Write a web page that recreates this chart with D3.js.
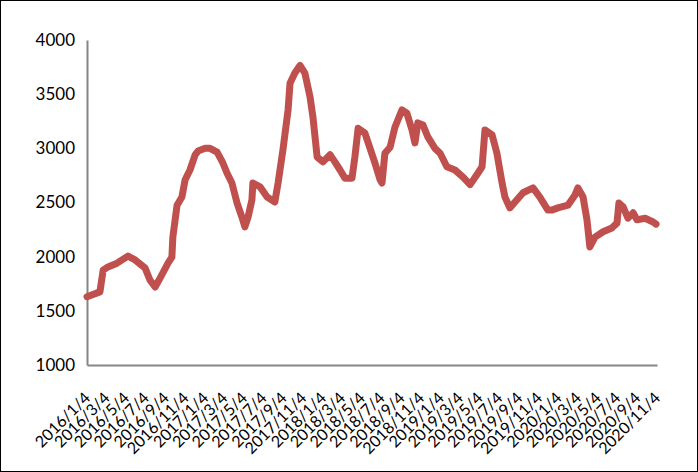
<!DOCTYPE html>
<html>
<head>
<meta charset="utf-8">
<script src="https://cdn.jsdelivr.net/npm/d3@7"></script>
<style>
  html, body { margin: 0; padding: 0; background: #fff; }
  svg { display: block; }
</style>
</head>
<body>
<svg id="chart" width="698" height="472"></svg>
<script>
const dates = [
  "2016-01-04","2016-02-13","2016-02-23","2016-03-09","2016-04-06","2016-05-10","2016-06-01","2016-07-02",
  "2016-07-17","2016-08-02","2016-08-17","2016-09-11","2016-09-23","2016-09-26","2016-10-09","2016-10-24",
  "2016-11-03","2016-11-18","2016-12-04","2016-12-13","2017-01-04","2017-01-19","2017-02-10","2017-02-28",
  "2017-03-13","2017-03-28","2017-04-13","2017-04-28","2017-05-07","2017-05-17","2017-05-29","2017-06-01",
  "2017-06-23","2017-07-15","2017-08-08","2017-08-18","2017-09-02","2017-09-18","2017-09-24","2017-10-09",
  "2017-10-25","2017-11-09","2017-11-25","2017-12-04","2017-12-17","2018-01-04","2018-01-26","2018-02-10",
  "2018-02-26","2018-03-13","2018-04-04","2018-04-13","2018-04-23","2018-05-14","2018-05-30","2018-06-14",
  "2018-06-30","2018-07-06","2018-07-15","2018-07-31","2018-08-15","2018-09-06","2018-09-21","2018-10-07",
  "2018-10-16","2018-10-25","2018-11-10","2018-11-25","2018-12-17","2019-01-02","2019-01-23","2019-02-17",
  "2019-03-14","2019-04-05","2019-04-29","2019-05-12","2019-05-21","2019-06-12","2019-06-27","2019-07-13",
  "2019-07-22","2019-08-06","2019-08-22","2019-09-16","2019-10-17","2019-11-07","2019-12-02","2019-12-14",
  "2020-01-02","2020-02-02","2020-02-24","2020-03-04","2020-03-20","2020-04-01","2020-04-10","2020-04-26",
  "2020-05-21","2020-06-17","2020-07-03","2020-07-09","2020-07-22","2020-08-06","2020-08-22","2020-09-03",
  "2020-09-28","2020-10-23","2020-11-01"
];
const prices = [
  1630,1675,1875,1905,1940,2005,1970,1895,
  1785,1720,1800,1940,1995,2180,2475,2550,
  2710,2800,2940,2975,3000,3000,2965,2865,
  2770,2680,2495,2365,2275,2365,2525,2680,
  2645,2550,2505,2680,2985,3355,3600,3695,
  3765,3695,3475,3290,2920,2875,2940,2875,
  2800,2725,2725,2920,3185,3140,3000,2865,
  2710,2680,2955,3010,3195,3355,3325,3170,
  3050,3235,3215,3105,3000,2955,2830,2800,
  2735,2665,2770,2830,3170,3125,2955,2680,
  2550,2450,2505,2590,2635,2550,2430,2430,
  2450,2475,2570,2635,2550,2340,2090,2180,
  2230,2265,2310,2495,2460,2355,2405,2340,
  2355,2320,2300
];
const yTicks = [1000, 1500, 2000, 2500, 3000, 3500, 4000];
const xTickLabels = [
  "2016/1/4","2016/3/4","2016/5/4","2016/7/4","2016/9/4","2016/11/4",
  "2017/1/4","2017/3/4","2017/5/4","2017/7/4","2017/9/4","2017/11/4",
  "2018/1/4","2018/3/4","2018/5/4","2018/7/4","2018/9/4","2018/11/4",
  "2019/1/4","2019/3/4","2019/5/4","2019/7/4","2019/9/4","2019/11/4",
  "2020/1/4","2020/3/4","2020/5/4","2020/7/4","2020/9/4","2020/11/4"
];

(function () {
const parse = d3.timeParse("%Y-%m-%d");
const parseLabel = d3.timeParse("%Y/%m/%d");
const data = dates.map((d, i) => ({ date: parse(d), value: prices[i] }));

const svg = d3.select("#chart");
const W = 698, H = 472;
const mLeft = 87, mRight = 657, mTop = 40, mBottom = 365;
const FONT = "Lato, 'Open Sans', sans-serif";

svg.append("rect").attr("x", 0.5).attr("y", 0.5).attr("width", W - 1).attr("height", H - 1)
  .attr("fill", "#fff").attr("stroke", "#000").attr("stroke-width", 1);

const x = d3.scaleTime()
  .domain([parseLabel(xTickLabels[0]), parseLabel(xTickLabels[xTickLabels.length - 1])])
  .range([mLeft, mRight]);
const y = d3.scaleLinear().domain([1000, 4000]).range([mBottom, mTop]);

// Y axis
const yAxis = svg.append("g").attr("transform", `translate(${mLeft},0)`)
  .call(d3.axisLeft(y).tickValues(yTicks).tickSize(0).tickPadding(12).tickFormat(d3.format("d")));
yAxis.select(".domain").attr("stroke", "#868686").attr("stroke-width", 2);
yAxis.selectAll("text").attr("font-family", FONT).attr("font-size", 17).attr("fill", "#000");

// X axis
const xAxis = svg.append("g").attr("transform", `translate(0,${mBottom})`)
  .call(d3.axisBottom(x).tickValues(xTickLabels.map(parseLabel)).tickSize(0)
    .tickFormat((d, i) => xTickLabels[i]));
xAxis.select(".domain").attr("stroke", "#868686").attr("stroke-width", 2);
xAxis.selectAll("text")
  .attr("font-family", FONT).attr("font-size", 16).attr("fill", "#000")
  .attr("text-anchor", "end")
  .attr("dy", null).attr("y", null)
  .attr("transform", "translate(1,31) rotate(-45)")
  .attr("dominant-baseline", "middle");

// Line
const line = d3.line().x(d => x(d.date)).y(d => y(d.value)).curve(d3.curveLinear);
svg.append("path").datum(data)
  .attr("d", line)
  .attr("fill", "none")
  .attr("stroke", "#C0504D")
  .attr("stroke-width", 7)
  .attr("stroke-linejoin", "round")
  .attr("stroke-linecap", "round");
})();
</script>
</body>
</html>
